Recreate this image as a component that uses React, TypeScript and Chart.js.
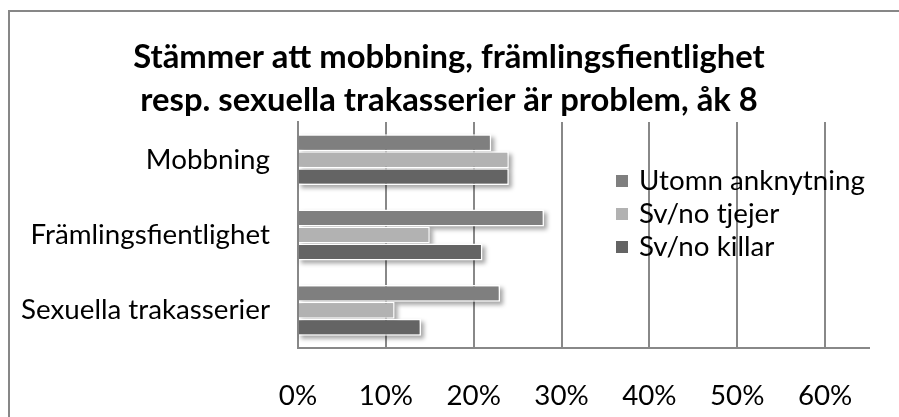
import React, { useEffect, useRef } from "react";
import { Chart, registerables } from "chart.js";

Chart.register(...registerables);

const categories = ["Mobbning", "Främlingsfientlighet", "Sexuella trakasserier"];
const seriesNames = ["Utomn anknytning", "Sv/no tjejer", "Sv/no killar"];
const utomnAnknytning = [22, 28, 23];
const svNoTjejer = [24, 15, 11];
const svNoKillar = [24, 21, 14];
const xTickValues = [0, 10, 20, 30, 40, 50, 60];
const titleLines = [
  "Stämmer att mobbning, främlingsfientlighet",
  "resp. sexuella trakasserier är problem, åk 8",
];
const seriesColors = ["#7f7f7f", "#b2b2b2", "#646464"];

const FAMILY = "Lato, 'Open Sans', sans-serif";

function fitSize(text: string, weight: string, target: number): number {
  const c = document.createElement("canvas").getContext("2d")!;
  c.font = `${weight} 100px ${FAMILY}`;
  return (100 * target) / c.measureText(text).width;
}

export default function App() {
  const ref = useRef<HTMLCanvasElement | null>(null);

  useEffect(() => {
    if (!ref.current) return;
    const labelSize = fitSize("Sexuella trakasserier", "normal", 249);
    const titleSize = fitSize(titleLines[0], "bold", 632);

    const titlePlugin = {
      id: "customTitle",
      afterDraw(chart: any) {
        const ctx = chart.ctx;
        ctx.save();
        ctx.font = `bold ${titleSize}px ${FAMILY}`;
        ctx.fillStyle = "#000";
        ctx.textAlign = "center";
        ctx.textBaseline = "middle";
        titleLines.forEach((line, i) => ctx.fillText(line, 439, 45 + i * 43));
        ctx.restore();
      },
    };

    const shadowPlugin = {
      id: "barShadow",
      beforeDatasetsDraw(chart: any) {
        const ctx = chart.ctx;
        ctx.save();
        ctx.filter = "blur(2px)";
        ctx.fillStyle = "rgba(0,0,0,0.35)";
        chart.data.datasets.forEach((_: any, di: number) => {
          chart.getDatasetMeta(di).data.forEach((el: any) => {
            const p = el.getProps(["x", "y", "base", "height"], true);
            ctx.fillRect(p.base + 2, p.y - p.height / 2 + 3, p.x - p.base + 1, p.height);
          });
        });
        ctx.restore();
      },
    };

    const legendPlugin = {
      id: "insideLegend",
      afterDraw(chart: any) {
        const ctx = chart.ctx;
        ctx.save();
        ctx.font = `normal ${labelSize}px ${FAMILY}`;
        ctx.textBaseline = "middle";
        ctx.textAlign = "left";
        chart.data.datasets.forEach((ds: any, i: number) => {
          const y = 169 + i * 33;
          ctx.fillStyle = ds.backgroundColor;
          ctx.fillRect(606, y - 6, 12, 12);
          ctx.fillStyle = "#000";
          ctx.fillText(ds.label, 629, y);
        });
        ctx.restore();
      },
    };

    const chart = new Chart(ref.current, {
      type: "bar",
      data: {
        labels: categories,
        datasets: [utomnAnknytning, svNoTjejer, svNoKillar].map((d, i) => ({
          label: seriesNames[i],
          data: d,
          backgroundColor: seriesColors[i],
          borderColor: "#ffffff",
          borderWidth: 1.5,
          borderSkipped: "start",
          categoryPercentage: 0.675,
          barPercentage: 1,
        })),
      },
      options: {
        indexAxis: "y",
        responsive: false,
        animation: false,
        layout: { padding: { left: 0, right: 51, top: 110, bottom: 0 } },
        plugins: {
          legend: { display: false },
          tooltip: { enabled: false },
          title: { display: false },
        },
        scales: {
          x: {
            type: "linear",
            min: 0,
            max: 65,
            afterBuildTicks: (s: any) => {
              s.ticks = xTickValues.map((v) => ({ value: v }));
            },
            afterFit: (s: any) => {
              s.height = 84;
            },
            grid: { color: "#888888", lineWidth: 2, drawTicks: false },
            border: { display: true, color: "#888888", width: 2 },
            ticks: {
              color: "#000",
              font: { family: FAMILY, size: labelSize, lineHeight: "30px" },
              padding: 33,
              callback: (v: any) => v + "%",
            },
          },
          y: {
            type: "category",
            afterFit: (s: any) => {
              s.width = 288;
            },
            grid: { display: false, drawTicks: false },
            border: { display: true, color: "#888888", width: 2 },
            ticks: {
              color: "#000",
              font: { family: FAMILY, size: labelSize },
              padding: 28,
            },
          },
        },
      } as any,
      plugins: [shadowPlugin, legendPlugin, titlePlugin],
    });
    return () => chart.destroy();
  }, []);

  return (
    <div
      style={{
        position: "fixed",
        left: 0,
        top: 0,
        width: 899,
        height: 417,
        overflow: "hidden",
        background: "#fff",
      }}
    >
      <div
        style={{
          position: "absolute",
          left: 8,
          top: 10,
          width: 940,
          height: 450,
          border: "2px solid #878787",
          boxSizing: "border-box",
          background: "#fff",
        }}
      >
        <canvas ref={ref} width={910} height={420} style={{ display: "block" }} />
      </div>
    </div>
  );
}
